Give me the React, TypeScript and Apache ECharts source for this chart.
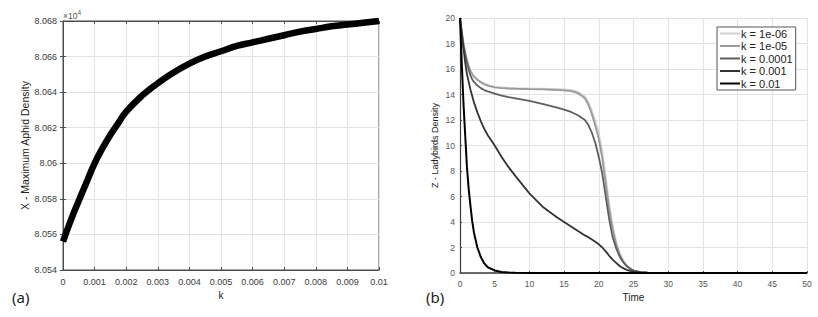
import React, { useEffect, useRef } from "react";
import * as echarts from "echarts";

// ---------- Panel (a) data ----------
const kValues = [
  0, 0.00025, 0.0005, 0.00075, 0.001, 0.00125, 0.0015, 0.00175, 0.002, 0.0025,
  0.003, 0.0035, 0.004, 0.0045, 0.005, 0.0055, 0.006, 0.0065, 0.007, 0.0075,
  0.008, 0.0085, 0.009, 0.0095, 0.01,
];
const maxAphid = [
  8.0556, 8.0568, 8.0579, 8.05895, 8.06, 8.06085, 8.0616, 8.06226, 8.0629, 8.0638,
  8.0645, 8.0651, 8.0656, 8.066, 8.0663, 8.0666, 8.0668, 8.067, 8.0672, 8.0674,
  8.06755, 8.0677, 8.0678, 8.0679, 8.068,
];

// ---------- Panel (b) data ----------
const timeSteps = [
  0, 0.25, 0.5, 0.75, 1, 1.25, 1.5, 1.75, 2, 2.5, 3, 3.5, 4, 5, 6, 7, 8, 10, 12,
  14, 15, 16, 17, 18, 18.5, 19, 19.5, 20, 20.5, 21, 21.5, 22, 22.5, 23, 23.5, 24,
  24.5, 25, 26, 27, 28, 30, 35, 40, 45, 50,
];
const zK1e6 = [
  20, 19.0, 18.05, 17.35, 16.75, 16.25, 15.9, 15.65, 15.45, 15.2, 15.0, 14.85,
  14.75, 14.6, 14.55, 14.52, 14.5, 14.47, 14.45, 14.42, 14.4, 14.35, 14.2, 13.85,
  13.4, 12.7, 11.9, 11.0, 9.5, 7.5, 5.4, 3.7, 2.45, 1.55, 1.0, 0.62, 0.37, 0.21,
  0.08, 0.03, 0.01, 0, 0, 0, 0, 0,
];
const zK1e5 = [
  20, 19.0, 18.0, 17.3, 16.7, 16.2, 15.85, 15.6, 15.4, 15.15, 14.95, 14.8, 14.7,
  14.56, 14.5, 14.47, 14.45, 14.42, 14.4, 14.35, 14.32, 14.27, 14.1, 13.7, 13.2,
  12.45, 11.55, 10.5, 9.0, 7.0, 5.0, 3.4, 2.25, 1.45, 0.92, 0.56, 0.33, 0.19,
  0.07, 0.03, 0.01, 0, 0, 0, 0, 0,
];
const zK1e4 = [
  20, 18.9, 17.8, 17.1, 16.5, 15.95, 15.5, 15.2, 15.0, 14.7, 14.5, 14.35, 14.25,
  14.07, 13.92, 13.8, 13.7, 13.5, 13.25, 12.97, 12.82, 12.63, 12.37, 12.0, 11.6,
  11.0, 10.2, 9.1, 7.8, 6.0, 4.2, 2.8, 1.95, 1.3, 0.85, 0.55, 0.33, 0.19, 0.07,
  0.03, 0.01, 0, 0, 0, 0, 0,
];
const zK1e3 = [
  20, 18.7, 17.6, 16.5, 15.6, 15.0, 14.4, 13.9, 13.4, 12.6, 11.9, 11.3, 10.8,
  10.0, 9.1, 8.3, 7.6, 6.25, 5.15, 4.35, 4.0, 3.65, 3.3, 2.95, 2.8, 2.62, 2.45,
  2.25, 2.0, 1.7, 1.35, 1.05, 0.8, 0.55, 0.38, 0.25, 0.17, 0.1, 0.04, 0.02, 0.01,
  0, 0, 0, 0, 0,
];
const zK1e2 = [
  20, 16.5, 13.3, 10.8, 8.3, 6.6, 5.3, 4.1, 3.2, 2.0, 1.25, 0.75, 0.45, 0.2,
  0.08, 0.04, 0.02, 0, 0, 0, 0, 0, 0, 0, 0, 0, 0, 0, 0, 0, 0, 0, 0, 0, 0, 0, 0, 0,
  0, 0, 0, 0, 0, 0, 0, 0,
];
const seriesNames = ["k = 1e-06", "k = 1e-05", "k = 0.0001", "k = 0.001", "k = 0.01"];
const seriesValues = [zK1e6, zK1e5, zK1e4, zK1e3, zK1e2];
const seriesColors = ["#cfcfcf", "#9a9a9a", "#5e5e5e", "#333333", "#000000"];

const FONT = "Liberation Sans, Arial, sans-serif";
const GRID_COLOR = "#e3e3e3";
const AXIS_COLOR = "#4d4d4d";
const LABEL_COLOR = "#3a3a3a";

const fmt = (v: number) => String(+v.toFixed(4));

export default function App() {
  const ref = useRef<HTMLDivElement>(null);
  useEffect(() => {
    if (!ref.current) return;
    const chart = echarts.init(ref.current, null, { renderer: "svg" });

    const tickLabel = { fontSize: 9, color: LABEL_COLOR, fontFamily: FONT };
    const axisLine = { show: true, lineStyle: { color: AXIS_COLOR, width: 1 } };
    const split = { show: true, lineStyle: { color: GRID_COLOR, width: 1 } };

    const option: any = {
      animation: false,
      backgroundColor: "#ffffff",
      textStyle: { fontFamily: FONT },
      grid: [
        { left: 63, top: 21, width: 316, height: 249, show: true, borderColor: AXIS_COLOR, borderWidth: 1, backgroundColor: "transparent" },
        { left: 460, top: 18, width: 347, height: 255 },
      ],
      xAxis: [
        {
          type: "value", gridIndex: 0, min: 0, max: 0.01, interval: 0.001,
          name: "k", nameLocation: "middle", nameGap: 20,
          nameTextStyle: { fontSize: 10, color: "#222", fontFamily: FONT },
          axisLine, axisTick: { show: true, inside: true, length: 3, lineStyle: { color: AXIS_COLOR } },
          axisLabel: { ...tickLabel, margin: 7, formatter: (v: number) => fmt(v) },
          splitLine: split,
        },
        {
          type: "value", gridIndex: 0, position: "top", min: 0, max: 0.01, interval: 0.001,
          axisLine, axisTick: { show: true, inside: true, length: 3, lineStyle: { color: AXIS_COLOR } },
          axisLabel: { show: false }, splitLine: { show: false },
        },
        {
          type: "value", gridIndex: 1, min: 0, max: 50, interval: 5,
          name: "Time", nameLocation: "middle", nameGap: 16,
          nameTextStyle: { fontSize: 10, color: "#222", fontFamily: FONT },
          axisLine: { show: true, lineStyle: { color: "#3a3a3a", width: 1.5 } },
          axisTick: { show: true, inside: true, length: 2, lineStyle: { color: AXIS_COLOR } },
          axisLabel: { ...tickLabel, fontSize: 8.5, color: "#555", margin: 6 },
          splitLine: split,
        },
      ],
      yAxis: [
        {
          type: "value", gridIndex: 0, min: 8.054, max: 8.068, interval: 0.002,
          name: "X - Maximum Aphid Density", nameLocation: "middle", nameGap: 33,
          nameTextStyle: { fontSize: 10.5, color: "#222", fontFamily: FONT },
          axisLine, axisTick: { show: true, inside: true, length: 3, lineStyle: { color: AXIS_COLOR } },
          axisLabel: { ...tickLabel, margin: 6, formatter: (v: number) => String(+v.toFixed(3)) },
          splitLine: split,
        },
        {
          type: "value", gridIndex: 0, position: "right", min: 8.054, max: 8.068, interval: 0.002,
          axisLine, axisTick: { show: true, inside: true, length: 3, lineStyle: { color: AXIS_COLOR } },
          axisLabel: { show: false }, splitLine: { show: false },
        },
        {
          type: "value", gridIndex: 1, min: 0, max: 20, interval: 2,
          name: "Z - Ladybirds Density", nameLocation: "middle", nameGap: 21,
          nameTextStyle: { fontSize: 9, color: "#222", fontFamily: FONT },
          axisLine: { show: true, lineStyle: { color: "#3a3a3a", width: 1.2 } },
          axisTick: { show: true, inside: true, length: 2, lineStyle: { color: AXIS_COLOR } },
          axisLabel: { ...tickLabel, fontSize: 8.5, color: "#555", margin: 5 },
          splitLine: split,
        },
      ],
      legend: {
        orient: "vertical",
        left: 717,
        top: 27,
        data: seriesNames.map((n) => ({ name: n, icon: "rect" })),
        itemWidth: 20,
        itemHeight: 2,
        itemGap: 1.5,
        padding: [1, 3, 1, 3],
        backgroundColor: "#ffffff",
        borderColor: "#555555",
        borderWidth: 1,
        borderRadius: 0,
        textStyle: { fontSize: 11, color: "#222", fontFamily: FONT, padding: [0, 0, 0, -4], lineHeight: 11 },
      },
      graphic: [
        {
          type: "text", left: 63, top: 9,
          style: {
            text: "{a|×10}{b|4}",
            rich: {
              a: { fontSize: 8.5, fill: "#555", fontFamily: FONT },
              b: { fontSize: 6.5, fill: "#555", fontFamily: FONT, padding: [0, 0, 6, 0] },
            },
          },
        },
        { type: "text", left: 12, top: 289, style: { text: "(a)", fontSize: 15, fill: "#222", fontFamily: "Noto Sans, sans-serif" } },
        { type: "text", left: 426, top: 289, style: { text: "(b)", fontSize: 15, fill: "#222", fontFamily: "Noto Sans, sans-serif" } },
      ],
      series: [
        {
          type: "line", xAxisIndex: 0, yAxisIndex: 0, name: "maxAphid",
          data: kValues.map((k, i) => [k, maxAphid[i]]),
          smooth: 0.5, symbol: "none",
          lineStyle: { color: "#000", width: 6.5 },
          z: 5,
        },
        ...seriesNames.map((name, s) => ({
          type: "line", xAxisIndex: 2, yAxisIndex: 2, name,
          data: timeSteps.map((t, i) => [t, seriesValues[s][i]]),
          smooth: false, symbol: "none", showSymbol: false,
          itemStyle: { color: seriesColors[s] },
          lineStyle: { color: seriesColors[s], width: s === 4 ? 2 : 1.8 },
          z: 5 + s,
        })),
      ],
    };
    chart.setOption(option);
    return () => chart.dispose();
  }, []);
  return <div ref={ref} style={{ position: "absolute", left: 0, top: 0, width: 818, height: 317 }} />;
}
